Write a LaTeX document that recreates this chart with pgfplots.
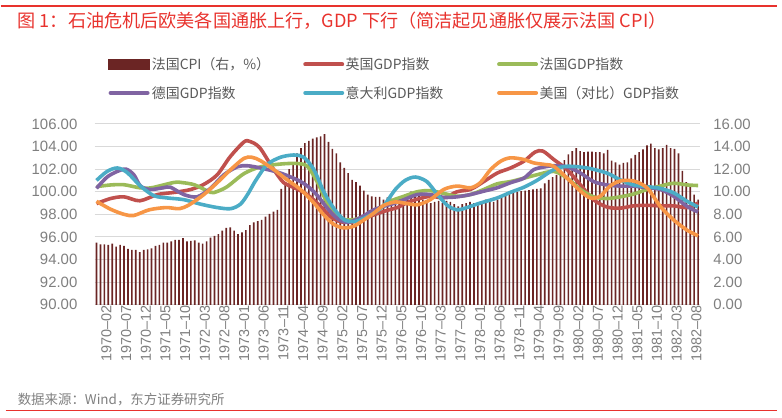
\documentclass[border=0pt]{standalone}
\usepackage{pgfplots}
\usepackage{pgfplotstable}
\pgfplotsset{compat=1.18}
\usepackage{fontspec}
\setmainfont{Liberation Sans}
\newfontfamily\cjk{Noto Sans CJK SC}
\definecolor{cpi}{HTML}{6B2524}
\definecolor{uk}{HTML}{C0504D}
\definecolor{fr}{HTML}{9BBB59}
\definecolor{de}{HTML}{8064A2}
\definecolor{it}{HTML}{4BACC6}
\definecolor{us}{HTML}{F79646}
\definecolor{titlered}{HTML}{E8322D}
\definecolor{tickgray}{HTML}{7F7F7F}
\definecolor{gridgray}{HTML}{D9D9D9}
\definecolor{legtext}{HTML}{595959}

\pgfplotstableread[header=false,row sep=\\]{
5.5\\ 5.35\\ 5.35\\ 5.3\\ 5.4\\ 5.15\\ 5.3\\ 5.2\\ 4.95\\ 4.85\\
4.85\\ 4.65\\ 4.85\\ 4.9\\ 5.0\\ 5.2\\ 5.3\\ 5.5\\ 5.5\\ 5.6\\
5.75\\ 5.75\\ 5.9\\ 5.6\\ 5.65\\ 5.7\\ 5.5\\ 5.4\\ 5.6\\ 5.95\\
6.1\\ 6.25\\ 6.55\\ 6.8\\ 6.85\\ 6.55\\ 6.25\\ 6.4\\ 6.6\\ 7.05\\
7.3\\ 7.4\\ 7.5\\ 7.8\\ 8.05\\ 8.25\\ 8.4\\ 10.25\\ 10.75\\ 12.0\\
12.6\\ 13.4\\ 13.85\\ 14.3\\ 14.5\\ 14.7\\ 14.8\\ 14.9\\ 15.1\\ 14.4\\
13.8\\ 13.4\\ 12.6\\ 12.1\\ 11.65\\ 11.05\\ 10.85\\ 10.55\\ 10.1\\ 9.75\\
9.6\\ 9.55\\ 9.55\\ 9.3\\ 9.5\\ 9.4\\ 9.3\\ 9.4\\ 9.6\\ 9.8\\
10.0\\ 10.05\\ 9.8\\ 9.3\\ 9.1\\ 9.0\\ 9.1\\ 9.2\\ 9.0\\ 9.2\\
9.1\\ 8.9\\ 8.7\\ 8.9\\ 9.0\\ 9.1\\ 9.0\\ 9.0\\ 8.95\\ 9.3\\
9.35\\ 9.1\\ 9.3\\ 9.5\\ 9.7\\ 10.0\\ 10.05\\ 10.0\\ 10.05\\ 10.1\\
10.15\\ 10.2\\ 10.25\\ 10.3\\ 10.75\\ 11.05\\ 11.3\\ 11.5\\ 11.95\\ 12.8\\
13.3\\ 13.6\\ 13.85\\ 13.6\\ 13.5\\ 13.55\\ 13.55\\ 13.5\\ 13.5\\ 13.4\\
13.7\\ 12.75\\ 12.6\\ 12.4\\ 12.55\\ 12.6\\ 12.95\\ 13.25\\ 13.5\\ 13.75\\
14.1\\ 14.25\\ 13.85\\ 13.75\\ 13.85\\ 14.15\\ 13.85\\ 13.8\\ 13.4\\ 11.85\\
10.85\\ 10.5\\ 9.75\\ 9.3\\
}\cpidata

\begin{document}
\begin{tikzpicture}
\path (0bp,0bp) rectangle (782bp,-418bp);
\draw[titlered, line width=1.2bp] (0bp,-6bp) -- (777bp,-6bp);
\draw[titlered, line width=1.2bp] (5bp,-411bp) -- (777bp,-411bp);
\node[anchor=west, inner sep=0pt, text=titlered, font=\cjk\fontsize{18.2}{20}\selectfont] at (17bp,-21bp)
  {图 1：石油危机后欧美各国通胀上行，GDP 下行（简洁起见通胀仅展示法国 CPI）};
\node[anchor=west, inner sep=0pt, text=tickgray, font=\cjk\fontsize{13.5}{16}\selectfont] at (17bp,-400bp)
  {数据来源：Wind，东方证券研究所};

\begin{axis}[
  at={(94bp,-305bp)}, anchor=south west,
  scale only axis, width=606bp, height=181bp,
  xmin=-0.5, xmax=153.5, ymin=0, ymax=16,
  axis line style={draw=none},
  major tick length=0pt,
  ytick={0,2,...,16},
  yticklabel pos=right,
  ymajorgrids, grid style={gridgray, line width=0.9bp},
  /pgf/number format/.cd, fixed, fixed zerofill, precision=2, assume math mode=true,
  /pgfplots/.cd,
  yticklabel style={font=\fontsize{15}{15}\selectfont, text=tickgray, inner sep=0pt, xshift=13bp},
  xtick={0,5,...,150},
  xticklabels={1970--02,1970--07,1970--12,1971--05,1971--10,1972--03,1972--08,1973--01,1973--06,1973--11,1974--04,1974--09,1975--02,1975--07,1975--12,1976--05,1976--10,1977--03,1977--08,1978--01,1978--06,1978--11,1979--04,1979--09,1980--02,1980--07,1980--12,1981--05,1981--10,1982--03,1982--08},
  xticklabel style={rotate=90, anchor=east, font=\fontsize{14.5}{15}\selectfont, text=tickgray, inner sep=0pt, yshift=-10bp},
]
\addplot[ybar, bar width=0.42, fill=cpi, draw=none] table[x expr=\coordindex, y index=0] {\cpidata};
\end{axis}

\begin{axis}[
  at={(94bp,-305bp)}, anchor=south west,
  scale only axis, width=606bp, height=181bp,
  xmin=-0.5, xmax=153.5, ymin=90, ymax=106,
  axis line style={draw=none},
  major tick length=0pt,
  xtick=\empty,
  ytick={90,92,...,106},
  /pgf/number format/.cd, fixed, fixed zerofill, precision=2, assume math mode=true,
  /pgfplots/.cd,
  yticklabel style={font=\fontsize{15}{15}\selectfont, text=tickgray, inner sep=0pt, xshift=-17bp},
  legend columns=3,
  legend style={draw=none, fill=none, at={(0.0216,1.375)}, anchor=north west,
    font=\cjk\fontsize{14}{15}\selectfont, text=legtext, row sep=12bp,
    inner sep=0pt, nodes={inner sep=1.5bp}},
  legend cell align=left,
  legend image code/.code={\draw[#1, line width=4bp, line cap=round] (1bp,0bp) -- (38bp,0bp);},
  every axis plot/.append style={smooth, tension=0.5, line width=3.6bp},
]
\addlegendimage{legend image code/.code={\fill[cpi] (0bp,-3.5bp) rectangle (39bp,3.5bp);}}
\addlegendentry{\makebox[150bp][l]{法国CPI（右，\%）}}
\addplot[uk] coordinates {(0,98.95) (3.6,99.4) (7,99.55) (11,99.2) (15.5,99.75) (20,99.95) (24,100.2) (27.3,100.65) (30.7,101.5) (34,103.1) (37.5,104.4) (39,104.45) (41.5,103.9) (45,102.0) (47.6,100.8) (50,100.4) (53.6,99.75) (57,98.7) (59.5,97.8) (62,97.35) (64.6,97.3) (67.1,97.5) (70.5,97.95) (73.9,98.35) (76.5,98.6) (79.8,99.15) (84.9,99.6) (88.3,99.45) (91.7,100.0) (95.1,100.2) (98.5,100.9) (101.9,101.65) (105.3,102.1) (108.7,102.7) (111.5,103.5) (113.5,103.6) (116.3,102.85) (119.7,101.95) (123.1,100.6) (126.4,99.3) (129.8,98.65) (133.2,98.55) (136.6,98.75) (140,98.8) (143.4,98.75) (146.8,98.75) (150.2,98.6) (153,99.0)};
\addlegendentry{\makebox[150bp][l]{英国GDP指数}}
\addplot[fr] coordinates {(0,100.45) (3.6,100.6) (7,100.62) (11,100.35) (14,100.35) (19.7,100.82) (22,100.8) (25,100.6) (29,99.95) (30.5,100.0) (33.2,100.44) (37.5,101.6) (41.7,102.2) (46.8,102.45) (51,102.5) (53.6,102.25) (56.1,100.9) (58.7,99.0) (61.2,97.8) (63.8,97.5) (66.3,97.6) (68.9,97.95) (72.3,98.6) (75,99.2) (78.2,99.6) (81.6,100.0) (84.9,100.1) (88.3,99.85) (91.7,99.6) (95.1,99.75) (98.5,100.2) (101.9,100.7) (105.3,100.9) (108.7,101.2) (112,101.5) (116.3,101.8) (119.7,101.2) (123.1,100.2) (126.4,99.55) (129.8,99.4) (133.2,99.55) (136.6,99.8) (140,100.2) (143.4,100.5) (146.8,100.75) (150.2,100.6) (153,100.55)};
\addlegendentry{\makebox[150bp][l]{法国GDP指数}}
\addplot[de] coordinates {(0,100.3) (2.7,101.3) (5.3,101.8) (7.5,102.0) (9.5,101.5) (11.2,100.5) (13.7,100.2) (17,100.35) (18.8,100.4) (22.2,99.75) (25.6,99.55) (29,100.3) (32.4,101.5) (35.8,102.2) (38.3,102.3) (41.7,102.1) (46.8,101.65) (51.9,100.9) (55.3,100.0) (58.7,98.55) (61.2,97.65) (63.8,97.3) (67.1,97.7) (70.5,98.4) (73.9,98.8) (76,99.0) (78.2,99.3) (81.6,99.75) (84.9,99.75) (88.3,99.5) (91.7,99.55) (95.1,99.75) (98.5,100.05) (101.9,100.35) (105.3,100.8) (108.7,101.2) (111.2,101.95) (114,102.2) (116.3,102.3) (119.7,102.2) (123.1,101.65) (126.4,100.9) (129.8,100.6) (133.2,100.5) (136.6,100.5) (140,100.35) (143.4,100.2) (146.8,99.6) (150.2,98.7) (153,98.2)};
\addlegendentry{\makebox[150bp][l]{德国GDP指数}}
\addplot[it] coordinates {(0,101.0) (2.7,101.8) (5.3,102.1) (7.8,101.7) (11.2,100.5) (14.6,99.65) (18,99.45) (22.2,99.3) (26.5,98.9) (30.7,98.6) (34.1,98.5) (36.6,98.9) (38.5,99.8) (40.5,101.0) (43.4,102.4) (46.8,103.05) (50.2,103.25) (52.7,103.05) (55.3,101.95) (57.8,100.0) (60.4,98.5) (62.9,97.55) (65.4,97.35) (68,97.65) (70.5,98.1) (73.1,98.8) (76,100.2) (78.5,101.0) (81.1,101.3) (84,100.9) (86.6,99.8) (89.2,98.8) (91.7,98.4) (94.2,98.6) (97.6,99.0) (101.9,99.45) (105.3,99.95) (108.7,100.4) (112,101.0) (116.3,101.95) (119.7,102.25) (124.8,102.1) (129.8,101.65) (133.2,101.05) (136.6,100.6) (140,100.45) (143.4,100.3) (146.8,99.9) (150.2,99.15) (153,98.65)};
\addlegendentry{\makebox[150bp][l]{意大利GDP指数}}
\addplot[us] coordinates {(0,99.15) (3.6,98.45) (7,98.0) (9.5,97.9) (13.4,98.4) (17.7,98.6) (21.1,98.5) (23.6,98.85) (27.3,99.75) (30.7,100.8) (34.1,101.95) (37.5,102.95) (39.5,103.05) (41.7,102.75) (45.1,101.95) (48.5,101.05) (51.9,100.2) (55.3,99.0) (57.8,97.95) (60.4,97.1) (62.9,96.8) (65.4,96.95) (68,97.5) (70.5,98.1) (73.1,98.8) (76,99.1) (78.2,99.0) (81.6,98.85) (84.9,99.3) (88.3,100.2) (91.7,100.5) (95.1,100.35) (97.6,100.8) (100.2,101.95) (102.8,102.7) (105.3,103.0) (108.7,102.85) (111.2,102.55) (114.2,102.4) (116.3,102.25) (119.7,101.2) (123.1,100.05) (125.6,99.45) (128.1,99.6) (130.6,100.5) (133.2,100.95) (136.6,100.95) (140,100.35) (143.4,98.7) (146.8,97.5) (150.2,96.6) (153,96.1)};
\addlegendentry{\makebox[150bp][l]{美国（对比）GDP指数}}
\end{axis}
\end{tikzpicture}
\end{document}
